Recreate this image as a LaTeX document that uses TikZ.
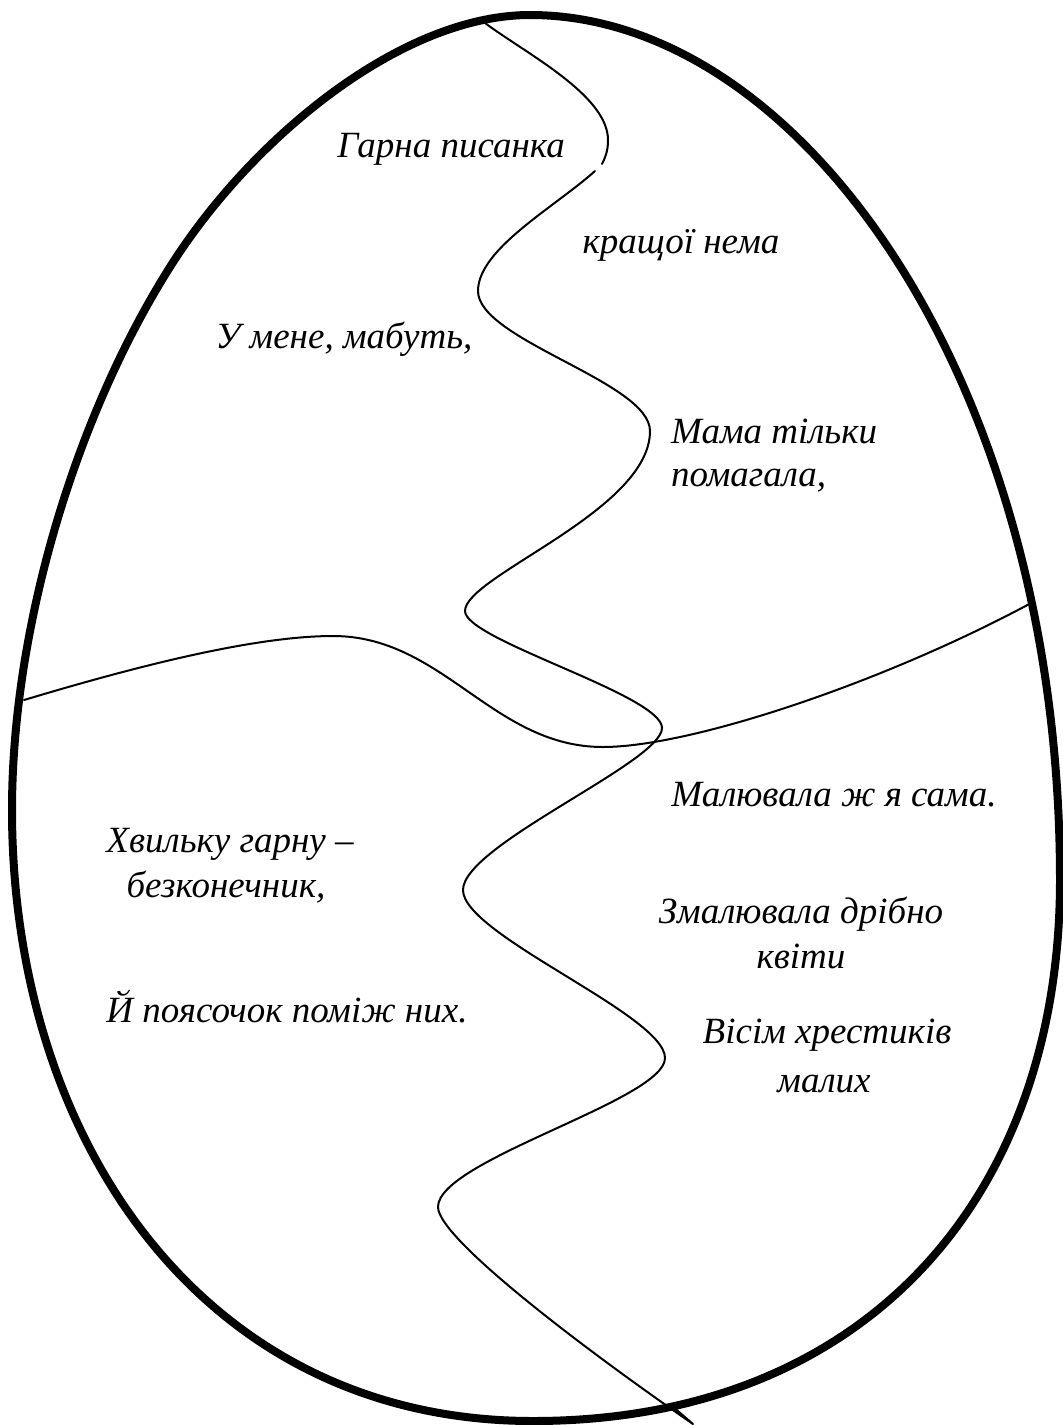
\documentclass[tikz,border=0pt]{standalone}
\usepackage{fontspec}
\setmainfont{Liberation Serif}
\begin{document}
\begin{tikzpicture}[x=1pt,y=-1pt,
  egg/.style={line width=8pt, line join=round},
  wave/.style={line width=2pt, line join=round, line cap=round},
  verse/.style={font=\fontsize{37}{44}\selectfont\itshape, inner sep=0pt, anchor=base}]
\useasboundingbox (0,0) rectangle (1063,1425);
\fill[white] (0,0) rectangle (1063,1425);
% egg outline
\coordinate (etop) at (530,15);
\coordinate (eright) at (1060,880);
\coordinate (ebottom) at (533,1421);
\coordinate (eleft) at (12,810);
\coordinate (eupleft) at (170,267);
\draw[egg] (etop) .. controls (800,15) and (1060,380) .. (eright)
  .. controls (1060,1200) and (863,1421) .. (ebottom)
  .. controls (203,1421) and (12,1140) .. (eleft)
  .. controls (12,630) and (74,419) .. (eupleft)
  .. controls (250,140) and (400,15) .. (etop) -- cycle;
% vertical wavy line, upper piece
\coordinate (vtop) at (485,23);
\coordinate (vr1) at (608,140);
\coordinate (vgap1) at (602,164);
\draw[wave] (vtop) .. controls (525,53) and (608,95) .. (vr1)
  .. controls (608,150) and (606,156) .. (vgap1);
% vertical wavy line, main piece
\coordinate (vgap2) at (595,171);
\coordinate (vl1) at (478,291);
\coordinate (vr2) at (650,431);
\coordinate (vl2) at (465,611);
\coordinate (vr3) at (662,728);
\coordinate (vl3) at (463,890);
\coordinate (vr4) at (665,1058);
\coordinate (vl4) at (438,1207);
\coordinate (vend) at (693,1424);
\coordinate (vback) at (671,1405);
\draw[wave] (vgap2) .. controls (555,207) and (478,249) .. (vl1)
  .. controls (478,340) and (650,382) .. (vr2)
  .. controls (650,511) and (465,576) .. (vl2)
  .. controls (465,640) and (662,695) .. (vr3)
  .. controls (662,762) and (463,845) .. (vl3)
  .. controls (463,935) and (665,1015) .. (vr4)
  .. controls (665,1100) and (438,1160) .. (vl4)
  .. controls (438,1240) and (600,1360) .. (vend)
  -- (vback);
% horizontal wavy line
\coordinate (hl) at (24,700);
\coordinate (hpeak) at (333,636);
\coordinate (htrough) at (603,747);
\coordinate (hr) at (1033,602);
\draw[wave] (hl) .. controls (124,670) and (250,636) .. (hpeak)
  .. controls (443,636) and (493,747) .. (htrough)
  .. controls (690,747) and (883,683) .. (hr);
% verses
\node[verse] (gp) at (451,157) {Гарна писанка};
\node[verse] (kn) at (681,253) {кращої нема};
\node[verse] (um) at (344,348) {У мене, мабуть,};
\node[verse, anchor=base west] (mt1) at (671,443) {Мама тільки};
\node[verse, anchor=base west] (mt2) at (671,486) {помагала,};
\node[verse] (ms) at (834,806) {Малювала ж я сама.};
\node[verse] (hv1) at (230,852) {Хвильку гарну –};
\node[verse] (hv2) at (226,897) {безконечник,};
\node[verse] (zm1) at (801,923) {Змалювала дрібно};
\node[verse] (zm2) at (801,968) {квіти};
\node[verse] (yp) at (287,1022) {Й поясочок поміж них.};
\node[verse] (vs1) at (827,1043) {Вісім хрестиків};
\node[verse] (vs2) at (824,1092) {малих};
\end{tikzpicture}
\end{document}
